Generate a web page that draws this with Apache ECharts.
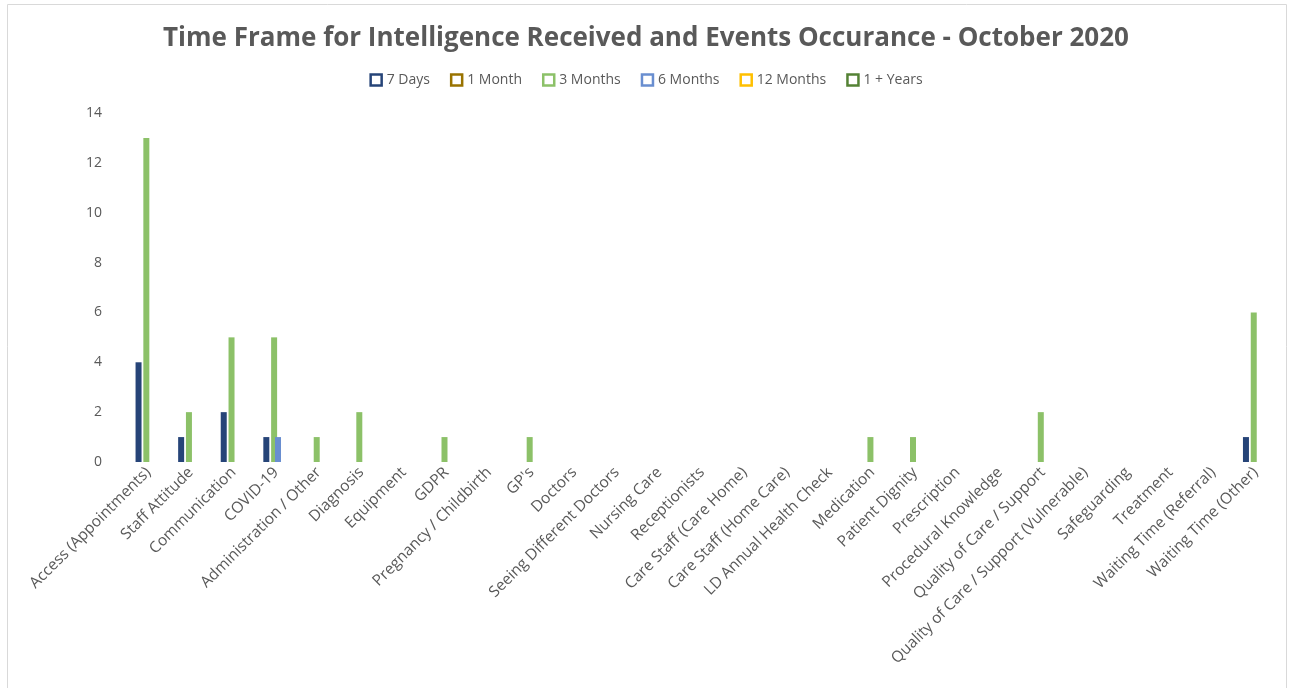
<!DOCTYPE html>
<html>
<head>
<meta charset="utf-8">
<script src="https://cdn.jsdelivr.net/npm/echarts@6/dist/echarts.min.js"></script>
<style>
  html, body { margin: 0; padding: 0; background: #fff; }
  #chart { width: 1292px; height: 688px; }
</style>
</head>
<body>
<div id="chart"></div>
<script>
// categories along the x axis
var categories = [
  "Access (Appointments)", "Staff Attitude", "Communication", "COVID-19",
  "Administration / Other", "Diagnosis", "Equipment", "GDPR",
  "Pregnancy / Childbirth", "GP's", "Doctors", "Seeing Different Doctors",
  "Nursing Care", "Receptionists", "Care Staff (Care Home)", "Care Staff (Home Care)",
  "LD Annual Health Check", "Medication", "Patient Dignity", "Prescription",
  "Procedural Knowledge", "Quality of Care / Support", "Quality of Care / Support (Vulnerable)",
  "Safeguarding", "Treatment", "Waiting Time (Referral)", "Waiting Time (Other)"
];

// series values, one per category
var days7     = [4, 1, 2, 1, 0, 0, 0, 0, 0, 0, 0, 0, 0, 0, 0, 0, 0, 0, 0, 0, 0, 0, 0, 0, 0, 0, 1];
var month1    = [0, 0, 0, 0, 0, 0, 0, 0, 0, 0, 0, 0, 0, 0, 0, 0, 0, 0, 0, 0, 0, 0, 0, 0, 0, 0, 0];
var months3   = [13, 2, 5, 5, 1, 2, 0, 1, 0, 1, 0, 0, 0, 0, 0, 0, 0, 1, 1, 0, 0, 2, 0, 0, 0, 0, 6];
var months6   = [0, 0, 0, 1, 0, 0, 0, 0, 0, 0, 0, 0, 0, 0, 0, 0, 0, 0, 0, 0, 0, 0, 0, 0, 0, 0, 0];
var months12  = [0, 0, 0, 0, 0, 0, 0, 0, 0, 0, 0, 0, 0, 0, 0, 0, 0, 0, 0, 0, 0, 0, 0, 0, 0, 0, 0];
var years1    = [0, 0, 0, 0, 0, 0, 0, 0, 0, 0, 0, 0, 0, 0, 0, 0, 0, 0, 0, 0, 0, 0, 0, 0, 0, 0, 0];

var seriesNames = ["7 Days", "1 Month", "3 Months", "6 Months", "12 Months", "1 + Years"];
var seriesData = [days7, month1, months3, months6, months12, years1];
var colors = ["#264478", "#997300", "#8cc168", "#698ed0", "#ffc000", "#548235"];

var textGray = "#595959";
var font = "'Open Sans', Lato, sans-serif";

var myChart = echarts.init(document.getElementById("chart"));

var series = seriesNames.map(function (name, i) {
  return {
    name: name,
    type: "bar",
    data: seriesData[i],
    barWidth: 6,
    barGap: "-35%",
    itemStyle: { color: colors[i] }
  };
});

myChart.setOption({
  animation: false,
  textStyle: { fontFamily: font },
  title: {
    text: "Time Frame for Intelligence Received and Events Occurance - October 2020",
    left: "center",
    top: 21,
    textStyle: { fontFamily: font, fontSize: 26, fontWeight: "bold", color: textGray }
  },
  legend: {
    top: 68,
    left: "center",
    itemWidth: 11,
    itemHeight: 11,
    itemGap: 20,
    textStyle: { fontFamily: font, fontSize: 14, color: textGray },
    data: seriesNames.map(function (name, i) {
      return {
        name: name,
        icon: "rect",
        itemStyle: { color: "#fff", borderColor: colors[i], borderWidth: 2.5 }
      };
    })
  },
  graphic: [{
    type: "rect",
    shape: { x: 7.5, y: 4.5, width: 1279, height: 700 },
    style: { fill: "none", stroke: "#d9d9d9", lineWidth: 1 },
    silent: true
  }],
  grid: { left: 127, right: 15, top: 113, bottom: 226 },
  xAxis: {
    type: "category",
    data: categories,
    axisLine: { show: false },
    axisTick: { show: false },
    axisLabel: {
      rotate: 45,
      interval: 0,
      margin: 8,
      fontFamily: font,
      fontSize: 15.5,
      color: textGray
    }
  },
  yAxis: {
    type: "value",
    min: 0,
    max: 14,
    interval: 2,
    axisLine: { show: false },
    axisTick: { show: false },
    splitLine: { show: false },
    axisLabel: { margin: 25, fontFamily: font, fontSize: 14, color: textGray }
  },
  series: series
});
</script>
</body>
</html>
